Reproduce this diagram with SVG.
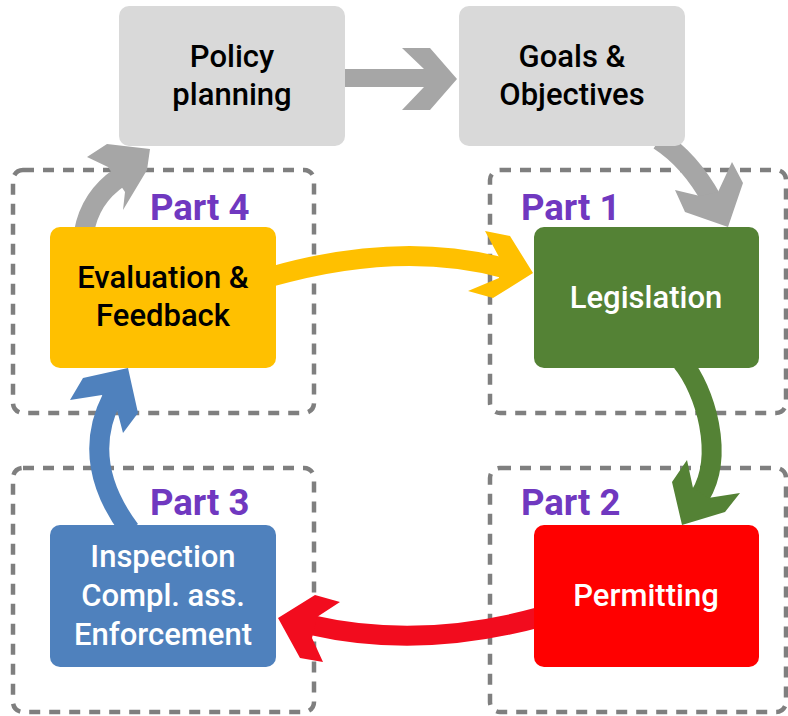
<svg xmlns="http://www.w3.org/2000/svg" width="788" height="716" viewBox="0 0 788 716">
<style>
.part{fill:none;stroke:#7F7F7F;stroke-width:4.5;stroke-dasharray:11 9}
.plabel{font-family:Roboto,"Liberation Sans",sans-serif;font-weight:700;font-size:36.5px;fill:#7038C0}
.t{font-family:Roboto,"Liberation Sans",sans-serif;font-weight:500;font-size:31px;text-anchor:middle}
.dark{fill:#000}
.light{fill:#fff}
.shaft{fill:none;stroke-width:20;stroke-linecap:butt}
</style>
<rect width="788" height="716" fill="#fff"/>
<g id="parts">
<rect class="part" x="13" y="170" width="301" height="243" rx="10"/>
<rect class="part" x="490" y="170" width="296" height="243" rx="10"/>
<rect class="part" x="13" y="468" width="301" height="244" rx="10"/>
<rect class="part" x="490" y="468" width="296" height="244" rx="10"/>
</g>
<g id="connectors">
<rect x="344" y="69" width="81" height="18" fill="#A6A6A6"/>
<polygon points="402,48 430,48 457,79 430,110 402,110 424,87 424,69" fill="#A6A6A6"/>
<path class="shaft" d="M 659 140 Q 690 160 712 200" stroke="#A6A6A6"/>
<polygon points="675,190 685,212 728,227 743,183 732,162 718,192 700,196" fill="#A6A6A6"/>
<path class="shaft" d="M 84 232 C 88 210 98 192 120 177" stroke="#A6A6A6"/>
<polygon points="87,157 107,144 150,149 147,170 123,210 125,192 108,167" fill="#A6A6A6"/>
<path class="shaft" d="M 270 277 Q 400 240 504 268" stroke="#FFC000" stroke-width="19"/>
<polygon points="485,231 510,236 533,273 493,298 468,291 499,278 499,257" fill="#FFC000"/>
<path class="shaft" d="M 682 362 C 705 390 725 455 700 496" stroke="#548235"/>
<polygon points="687,460 672,482 682,525 725,512 740,493 708,498 693,488" fill="#548235"/>
<path class="shaft" d="M 540 617 Q 420 650 311 625" stroke="#F20C1E"/>
<polygon points="340,602 315,595 278,618 300,658 323,662 312,638 317,617" fill="#F20C1E"/>
<path class="shaft" d="M 130 530 C 100 490 88 445 112 398" stroke="#4F81BD"/>
<polygon points="70,400 83,378 128,368 138,413 123,433 117,410 102,395" fill="#4F81BD"/>
</g>
<g id="policy">
<rect x="119" y="6" width="226" height="140" rx="10" fill="#D9D9D9"/>
<text class="t dark" x="232" y="67">Policy</text>
<text class="t dark" x="232" y="105">planning</text>
</g>
<g id="goals">
<rect x="459" y="6" width="226" height="140" rx="10" fill="#D9D9D9"/>
<text class="t dark" x="572" y="67">Goals &amp;</text>
<text class="t dark" x="572" y="105">Objectives</text>
</g>
<g id="evaluation">
<rect x="50" y="227" width="226" height="141" rx="10" fill="#FFC000"/>
<text class="t dark" x="163" y="288">Evaluation &amp;</text>
<text class="t dark" x="163" y="326">Feedback</text>
</g>
<g id="legislation">
<rect x="534" y="227" width="225" height="141" rx="10" fill="#548235"/>
<text class="t light" x="646" y="308">Legislation</text>
</g>
<g id="inspection">
<rect x="50" y="525" width="226" height="142" rx="10" fill="#4F81BD"/>
<text class="t light" x="163" y="567">Inspection</text>
<text class="t light" x="163" y="606">Compl. ass.</text>
<text class="t light" x="163" y="645">Enforcement</text>
</g>
<g id="permitting">
<rect x="534" y="525" width="225" height="142" rx="10" fill="#FF0000"/>
<text class="t light" x="646" y="606">Permitting</text>
</g>
<g id="labels">
<text class="plabel" x="150" y="220">Part 4</text>
<text class="plabel" x="521" y="220">Part 1</text>
<text class="plabel" x="150" y="515">Part 3</text>
<text class="plabel" x="521" y="515">Part 2</text>
</g>
</svg>
